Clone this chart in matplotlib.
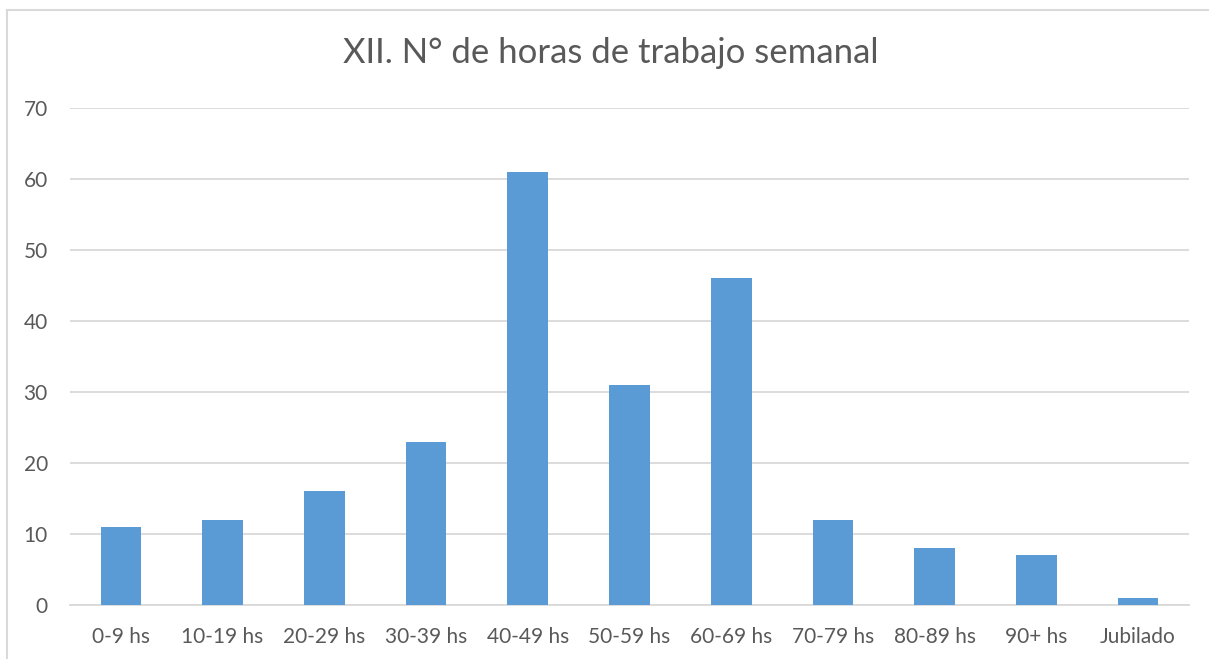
import matplotlib
matplotlib.use("Agg")
import matplotlib.pyplot as plt
from matplotlib.lines import Line2D

categories = ["0-9 hs", "10-19 hs", "20-29 hs", "30-39 hs", "40-49 hs", "50-59 hs",
              "60-69 hs", "70-79 hs", "80-89 hs", "90+ hs", "Jubilado"]
values = [11, 12, 16, 23, 61, 31, 46, 12, 8, 7, 1]
yticks = [0, 10, 20, 30, 40, 50, 60, 70]
title = "XII. N° de horas de trabajo semanal"

plt.rcParams['font.family'] = ['Lato', 'DejaVu Sans']
W, H = 1209, 659
fig = plt.figure(figsize=(W / 100, H / 100), dpi=100)
ax = fig.add_axes([70 / W, 1 - 605 / H, (1189 - 70) / W, (605 - 108) / H])

x = list(range(len(categories)))
ax.bar(x, values, width=0.4, color="#5B9BD5", zorder=3)
ax.set_xlim(-0.5, len(categories) - 0.5)
ax.set_ylim(0, 70)
ax.set_yticks(yticks)
ax.set_xticks(x)
ax.set_xticklabels(categories)
ax.grid(axis="y", color="#D9D9D9", linewidth=1.3, zorder=0)
for s in ["top", "right", "left"]:
    ax.spines[s].set_visible(False)
ax.spines["bottom"].set_color("#D9D9D9")
ax.spines["bottom"].set_linewidth(1.3)
ax.tick_params(axis="both", length=0, colors="#595959", labelsize=15)
ax.tick_params(axis="y", pad=16)
ax.tick_params(axis="x", pad=16)

fig.text((345 + 877) / 2 / W, 1 - 53 / H, title, ha="center", va="center",
         fontsize=25, color="#595959")

# outer chart border
fig.add_artist(Line2D([6.5 / W, 6.5 / W], [0, 1 - 9.5 / H], color="#D9D9D9", linewidth=1.5,
                      transform=fig.transFigure))
fig.add_artist(Line2D([6.5 / W, 1], [1 - 9.5 / H, 1 - 9.5 / H], color="#D9D9D9", linewidth=1.5,
                      transform=fig.transFigure))

fig.savefig("out.png", dpi=100)
